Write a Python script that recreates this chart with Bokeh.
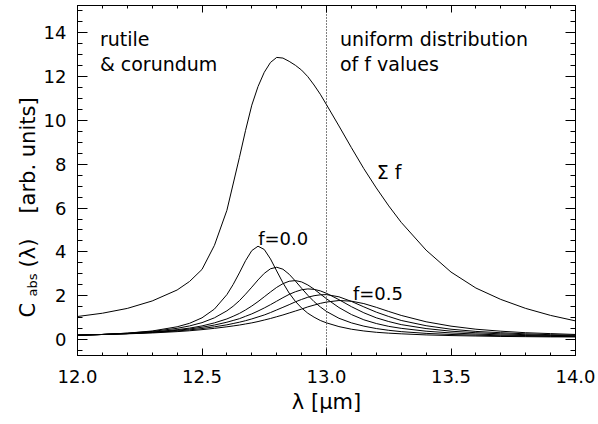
import numpy as np
from bokeh.plotting import figure
from bokeh.layouts import row
from bokeh.models import (Range1d, LinearAxis, SingleIntervalTicker, NumeralTickFormatter,
                          CustomJSTickFormatter, Span, Label)
from bokeh.embed import file_html
from bokeh.resources import INLINE

# wavelength grid [micron]
wavelength = [12.00, 12.10, 12.20, 12.30, 12.40, 12.45, 12.50, 12.55, 12.60, 12.625,
              12.65, 12.675, 12.70, 12.725, 12.75, 12.775, 12.80, 12.825, 12.85, 12.875,
              12.90, 12.925, 12.95, 12.975, 13.00, 13.05, 13.10, 13.15, 13.20, 13.25,
              13.30, 13.40, 13.50, 13.60, 13.70, 13.80, 13.90, 14.00]

# absorption cross section for single f values (arb. units)
c_f00 = [0.19, 0.23, 0.29, 0.39, 0.58, 0.74, 0.99, 1.39, 2.05, 2.51,
         3.04, 3.60, 4.06, 4.26, 4.11, 3.68, 3.13, 2.59, 2.12, 1.74,
         1.44, 1.20, 1.02, 0.87, 0.76, 0.59, 0.47, 0.39, 0.33, 0.29,
         0.26, 0.21, 0.18, 0.16, 0.14, 0.13, 0.12, 0.12]
c_f01 = [0.20, 0.23, 0.29, 0.37, 0.51, 0.62, 0.77, 0.99, 1.31, 1.52,
         1.77, 2.07, 2.39, 2.72, 3.02, 3.23, 3.30, 3.21, 2.98, 2.67,
         2.34, 2.02, 1.73, 1.49, 1.28, 0.97, 0.76, 0.61, 0.50, 0.42,
         0.36, 0.28, 0.23, 0.20, 0.17, 0.16, 0.14, 0.13]
c_f02 = [0.20, 0.23, 0.27, 0.34, 0.45, 0.52, 0.62, 0.76, 0.94, 1.06,
         1.19, 1.35, 1.53, 1.73, 1.95, 2.17, 2.38, 2.55, 2.66, 2.69,
         2.63, 2.49, 2.30, 2.08, 1.86, 1.46, 1.14, 0.90, 0.73, 0.60,
         0.51, 0.38, 0.30, 0.25, 0.21, 0.18, 0.17, 0.15]
c_f03 = [0.20, 0.23, 0.27, 0.33, 0.42, 0.48, 0.56, 0.66, 0.79, 0.87,
         0.95, 1.06, 1.17, 1.30, 1.44, 1.59, 1.75, 1.91, 2.06, 2.18,
         2.27, 2.31, 2.29, 2.22, 2.11, 1.82, 1.50, 1.22, 0.99, 0.82,
         0.68, 0.50, 0.38, 0.31, 0.26, 0.22, 0.19, 0.17]
c_f04 = [0.20, 0.23, 0.27, 0.32, 0.39, 0.44, 0.50, 0.58, 0.67, 0.73,
         0.79, 0.86, 0.94, 1.03, 1.12, 1.23, 1.35, 1.47, 1.59, 1.72,
         1.83, 1.93, 2.00, 2.04, 2.05, 1.95, 1.74, 1.49, 1.25, 1.05,
         0.87, 0.63, 0.47, 0.37, 0.31, 0.26, 0.22, 0.20]
c_f05 = [0.20, 0.23, 0.26, 0.30, 0.36, 0.40, 0.45, 0.51, 0.58, 0.62,
         0.66, 0.71, 0.76, 0.82, 0.89, 0.96, 1.04, 1.12, 1.21, 1.30,
         1.39, 1.49, 1.57, 1.65, 1.71, 1.78, 1.75, 1.64, 1.47, 1.28,
         1.10, 0.81, 0.61, 0.47, 0.38, 0.31, 0.27, 0.23]
single_f = [c_f00, c_f01, c_f02, c_f03, c_f04, c_f05]

# sum over a uniform distribution of f values
c_sum = [1.05, 1.20, 1.42, 1.76, 2.26, 2.65, 3.20, 4.30, 5.90, 7.10,
         8.30, 9.55, 10.70, 11.55, 12.20, 12.65, 12.88, 12.85, 12.70, 12.52,
         12.30, 12.00, 11.62, 11.20, 10.72, 9.75, 8.76, 7.80, 6.92, 6.10,
         5.35, 4.08, 3.08, 2.35, 1.83, 1.42, 1.10, 0.85]

FONT = "DejaVu Sans"
FS = "18px"
FS_NOTE = "19px"
FS_TITLE = "21px"
TITLE_W = 40   # strip on the left that carries the rotated y title
Y0, Y1 = -0.73, 15.25

p = figure(width=598 - TITLE_W, height=424, output_backend="svg", toolbar_location=None,
           title=None, x_range=Range1d(12.0, 14.0), y_range=Range1d(Y0, Y1),
           min_border_left=76 - TITLE_W, min_border_right=23, min_border_top=5,
           min_border_bottom=69, x_axis_type=None, y_axis_type=None)
p.background_fill_color = "white"
p.border_fill_color = "white"
p.outline_line_color = "black"
p.outline_line_width = 1
p.xgrid.visible = False
p.ygrid.visible = False


def style_axis(ax, ticker, tick_len, show_labels, standoff):
    ax.ticker = ticker
    ax.axis_line_color = "black"
    ax.axis_line_width = 1
    ax.major_tick_line_color = "black"
    ax.minor_tick_line_color = "black"
    ax.major_tick_in = tick_len
    ax.major_tick_out = 0
    ax.minor_tick_in = tick_len // 2
    ax.minor_tick_out = 0
    ax.major_label_standoff = standoff
    ax.major_label_text_font = FONT
    ax.major_label_text_font_size = FS
    ax.major_label_text_color = "black"
    if not show_labels:
        ax.formatter = CustomJSTickFormatter(code="return ''")
        ax.major_label_text_font_size = "0px"
        ax.major_label_standoff = 0


xb = LinearAxis()
style_axis(xb, SingleIntervalTicker(interval=0.5, num_minor_ticks=5), 7, True, 14)
xb.formatter = NumeralTickFormatter(format="0.0")
xb.axis_label = "λ [μm]"
xb.axis_label_text_font = FONT
xb.axis_label_text_font_size = FS_TITLE
xb.axis_label_text_font_style = "normal"
xb.axis_label_text_color = "black"
xb.axis_label_standoff = 4
p.add_layout(xb, "below")
xt = LinearAxis()
style_axis(xt, SingleIntervalTicker(interval=0.5, num_minor_ticks=5), 7, False, 0)
p.add_layout(xt, "above")
yl = LinearAxis()
style_axis(yl, SingleIntervalTicker(interval=2, num_minor_ticks=4), 10, True, 11)
p.add_layout(yl, "left")
yr = LinearAxis()
style_axis(yr, SingleIntervalTicker(interval=2, num_minor_ticks=4), 10, False, 0)
p.add_layout(yr, "right")

# curves
for c in single_f:
    p.line(wavelength, c, line_color="black", line_width=1)
p.line(wavelength, c_sum, line_color="black", line_width=1)

p.add_layout(Span(location=13.0, dimension="height", line_color="black",
                  line_width=1, line_dash="1 2"))


def txt(fig, x, y, s, size=FS, align="left", angle=0.0):
    fig.add_layout(Label(x=x, y=y, text=s, text_font=FONT, text_font_size=size,
                         text_color="black", text_align=align, text_baseline="alphabetic",
                         angle=angle))


txt(p, 12.09, 13.73, "rutile", FS_NOTE)
txt(p, 12.09, 12.58, "& corundum", FS_NOTE)
txt(p, 13.054, 13.73, "uniform distribution", FS_NOTE)
txt(p, 13.054, 12.58, "of f values", FS_NOTE)
txt(p, 13.202, 7.63, "Σ  f", FS_NOTE)
txt(p, 12.826, 4.61, "f=0.0", align="center")
txt(p, 13.106, 2.10, "f=0.5")

# rotated y title in a narrow strip whose vertical scale matches the main frame;
# "abs" is set smaller and shifted down as a subscript
t = figure(width=TITLE_W, height=424, output_backend="svg", toolbar_location=None,
           title=None, x_range=Range1d(0, TITLE_W), y_range=Range1d(Y0, Y1),
           min_border_left=0, min_border_right=0, min_border_top=5, min_border_bottom=69,
           x_axis_type=None, y_axis_type=None)
t.outline_line_color = None
t.xgrid.visible = False
t.ygrid.visible = False
t.background_fill_color = "white"
t.border_fill_color = "white"
txt(t, 27, 1.00, "C", FS_TITLE, angle=np.pi / 2)
txt(t, 32, 1.96, "abs", "13px", angle=np.pi / 2)
txt(t, 27, 3.29, "(λ)", FS_TITLE, angle=np.pi / 2)
txt(t, 27, 5.75, "[arb. units]", FS_TITLE, angle=np.pi / 2)

layout = row(t, p, spacing=0)
open("out.html", "w").write(file_html(layout, INLINE))
